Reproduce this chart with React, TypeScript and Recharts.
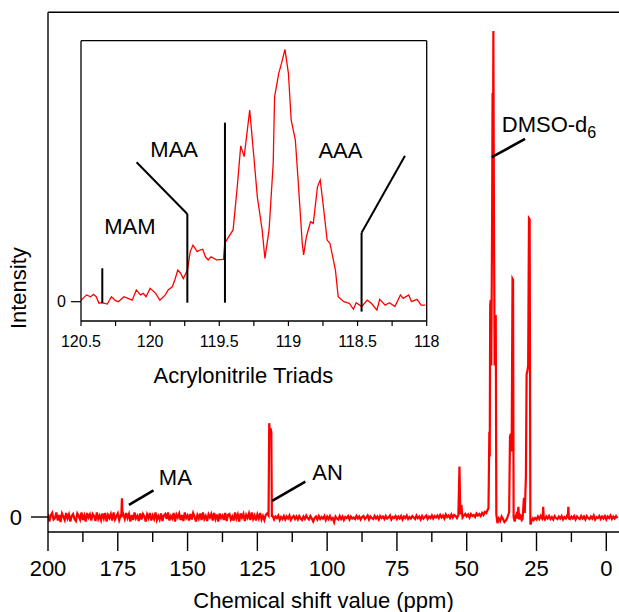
import React from "react";
import { LineChart, Line, XAxis, YAxis, ReferenceLine, ReferenceDot } from "recharts";

const FONT = '"Liberation Sans", Arial, Helvetica, sans-serif';
const RED = "#ff0000";

// Full 13C spectrum. Baseline sampled every 0.5 ppm: 200 -> 43.5 and 26 -> -4
const NOISE_A_START = 200;
const NOISE_A = [
  0.6, -0.9, 0.3, 0.8, -0.5, -0.2, 0.9, -0.7, 0.4, -1.0, 0.7, 0.1, -0.6, 0.8, -0.3, 0.5, -0.9, 0.2, 0.6, -0.4,
  -0.8, 0.7, 0.2, -0.5, 0.9, -0.6, 0.3, -0.9, 0.8, -0.1, 0.5, -0.7, 0.6, 0.2, -0.8, 0.9, -0.4, 0.3, -0.6, 0.7,
  -0.3, 0.8, -0.9, 0.4, -0.2, 0.6, -0.7, 0.9, -0.5, 0.1, 0.7, -0.6, 0.3, -0.8, 0.5, -0.4, 0.8, -0.2, 0.6, -0.9,
  0.4, -0.6, 0.9, -0.3, 0.2, -0.8, 0.7, -0.5, 0.6, 0.1, -0.9, 0.5, -0.2, 0.8, -0.7, 0.3, -0.4, 0.9, -0.6, 0.2,
  -0.5, 0.7, -0.8, 0.3, 0.6, -0.4, 0.9, -0.7, 0.2, -0.3, 0.8, -0.9, 0.5, -0.1, 0.7, -0.6, 0.4, -0.8, 0.9, -0.2,
  0.3, -0.7, 0.6, -0.5, 0.8, 0.1, -0.9, 0.4, -0.3, 0.7, -0.6, 0.9, -0.4, 0.2, -0.8, 0.5, -0.1, 0.6, -0.7, 0.8,
  -0.4, 0.5, -0.9, 0.7, -0.2, 0.3, -0.6, 0.8, -0.8, 0.4, 0.6, -0.5, 0.1, -0.7, 0.9, -0.3, 0.5, -0.9, 0.7, -0.1,
  0.6, -0.8, 0.4, -0.2, 0.7, -0.6, 0.9, -0.4, 0.3, -0.7, 0.5, -0.3, 0.8, -0.5, 0.2, -0.6, 0.4, 0.7, -0.2, 0.5,
  -0.3, 0.2, -0.5, 0.1, -0.2, 0.3, -0.6, 0.0, -0.4, 0.2, -0.5, 0.1, -0.3, 0.3, -0.6, -0.1, 0.2, -0.4, 0.1, -0.5,
  0.2, -0.3, -0.6, 0.1, -0.4, 0.3, -0.2, -0.5, 0.2, -0.3, -0.9, -0.2, 0.1, -0.5, 0.2, -0.4, 0.0, -0.3, 0.2, -0.6,
  0.1, -0.4, 0.2, -0.5, -0.2, -1.0, 0.1, -0.3, -0.5, 0.2, -0.4, 0.1, -0.6, 0.0, -0.2, 0.2, -0.5, 0.1, -0.3, -0.1,
  -0.4, 0.2, -0.3, 0.1, -0.5, 0.0, 0.2, -0.4, -0.1, 0.3, -0.5, 0.1, -0.2, -0.4, 0.2, -0.3, 0.1, -0.5, 0.2, -0.2,
  0.1, -0.4, 0.2, -0.3, -0.1, 0.3, -0.5, 0.0, -0.2, 0.2, -0.4, 0.1, -0.3, 0.2, -0.5, 0.1, -0.2, 0.3, -0.4, 0.0,
  -0.3, 0.2, -0.1, -0.4, 0.3, -0.2, 0.1, -0.5, 0.2, -0.3, 0.0, 0.3, -0.4, 0.1, -0.2, 0.3, -0.3, 0.2, -0.1, 0.3,
  -0.2, 0.4, -0.1, 0.3, -0.3, 0.5, 0.0, 0.3, -0.2, 0.5, -0.1, 0.4, 0.2, -0.2, 0.5, 0.1, 0.4, -0.1, 0.3, 0.6,
  0.1, 0.5, -0.1, 0.6, 0.2, 0.4, 0.0, 0.7, 0.3, 0.6, 0.2, 0.8, 0.4, 1.0,
];
const NOISE_B_START = 26;
const NOISE_B = [
  -0.6, -0.2, -0.5, 0.1, -0.4, 0.2, -0.3, -0.1, -0.5, 0.1,
  -0.3, 0.2, -0.4, 0.0, -0.5, 0.2, -0.2, -0.4, 0.1, -0.3,
  0.2, -0.5, 0.0, -0.3, 0.3, -0.1, -0.4, 0.1, -0.3, 0.2,
  -0.5, 0.1, -0.2, -0.4, 0.2, -0.3, 0.1, -0.5, 0.2, -0.2,
  -0.4, 0.1, -0.3, 0.3, -0.5, 0.0, -0.2, 0.2, -0.4, 0.1,
  -0.3, 0.2, -0.5, 0.1, -0.2, 0.3, -0.4, 0.1, -0.3, 0.2,
  -0.2,
];

// resonances as [ppm, intensity] runs, highest ppm first
const MA_PEAK = [[173.75, 0.2], [173.5, 3.7], [173.3, 0.1]];
const AN_PEAK = [[121.0, 0.3], [120.75, 18.6], [120.55, 17.0], [120.3, 17.6], [120.0, 16.9], [119.8, 0.2]];
const OME_PEAK = [[53.0, 0.4], [52.6, 10.0], [52.3, 0.5], [51.9, 2.4], [51.6, 0.3]];
const ALIPHATIC = [
  [43.0, 0.8], [42.2, 1.8], [41.9, 16.9], [41.75, 12.0], [41.6, 42.0], [41.4, 43.0],
  [41.2, 30.0], [40.9, 60.0], [40.75, 84.0], [40.6, 70.0], [40.45, 96.3], [40.25, 60.0],
  [40.0, 30.0], [39.8, 39.7], [39.6, 40.0], [39.4, 0.5], [39.0, -1.2], [38.5, -0.3],
  [38.0, -0.8], [37.5, 0.1], [37.0, -0.4], [36.5, -1.0], [36.0, -0.7], [35.5, -0.2],
  [35.2, 0.3], [34.8, 1.0], [34.5, 15.9], [34.2, 16.5], [33.9, 13.0], [33.6, 47.2],
  [33.4, 47.0], [33.2, 0.0], [32.8, -0.9], [32.5, 0.1], [32.2, 0.5], [31.8, -0.3],
  [31.5, 2.0], [31.2, -0.5], [30.9, 0.4], [30.6, 0.2], [30.3, -0.6], [30.0, -0.4],
  [29.5, 3.8], [29.2, 0.8], [28.8, 8.0], [28.55, 28.3], [28.3, 28.8], [28.0, 30.0],
  [27.7, 59.2], [27.45, 59.0], [27.2, -1.5], [26.8, -0.8], [26.3, -0.3],
];
const PEAK_22 = [[22.8, 0.1], [22.6, 2.0], [22.4, -0.2]];
const PEAK_14 = [[13.8, 0.1], [13.6, 2.0], [13.4, -0.2]];
const PEAK_GROUPS = [MA_PEAK, AN_PEAK, OME_PEAK, ALIPHATIC, PEAK_22, PEAK_14];

const MAIN_TICKS = [200, 187.5, 175, 162.5, 150, 137.5, 125, 112.5, 100, 87.5, 75, 62.5, 50, 37.5, 25, 12.5, 0];

// Expanded nitrile region (acrylonitrile triads)
const INSET_PPM = [
  120.5, 120.46, 120.43, 120.41, 120.39, 120.37, 120.35, 120.31, 120.28, 120.25,
  120.23, 120.19, 120.16, 120.13, 120.1, 120.07, 120.05, 120.03, 120.0, 119.96,
  119.93, 119.89, 119.87, 119.84, 119.82, 119.8, 119.78, 119.76, 119.73, 119.71,
  119.69, 119.66, 119.64, 119.62, 119.6, 119.58, 119.56, 119.52, 119.47, 119.46,
  119.43, 119.4, 119.37, 119.345, 119.32, 119.28, 119.25, 119.225, 119.19, 119.17,
  119.14, 119.11, 119.1, 119.07, 119.05, 119.025, 119.0, 118.98, 118.95, 118.93,
  118.9, 118.89, 118.87, 118.84, 118.82, 118.79, 118.77, 118.75, 118.72, 118.7,
  118.66, 118.64, 118.6, 118.56, 118.53, 118.51, 118.47, 118.43, 118.4, 118.36,
  118.34, 118.3, 118.27, 118.23, 118.19, 118.17, 118.13, 118.11, 118.07, 118.04,
  118.01,
];
const INSET_INT = [
  0.5, 2.6, 1.9, 2.8, 1.9, -0.6, -0.4, -0.9, 1.9, 0.4,
  0.0, 1.9, 1.3, 0.6, 4.5, 2.6, 3.2, 1.9, 5.1, 3.2,
  0.6, 2.6, 4.5, 5.7, 8.6, 12.1, 10.9, 8.9, 12.1, 19.2,
  21.7, 19.2, 19.8, 20.1, 17.2, 16.0, 17.2, 16.0, 16.2, 22.4,
  25.0, 27.5, 44.0, 59.7, 55.6, 73.4, 55.6, 40.2, 27.5, 16.6,
  27.5, 53.0, 78.5, 87.5, 91.3, 96.7, 87.5, 69.6, 62.0, 46.6,
  22.4, 17.9, 24.9, 30.6, 30.0, 44.0, 46.6, 37.7, 23.6, 22.4,
  12.1, 1.9, 0.0, -0.6, -2.9, -0.4, -1.9, 0.6, -0.6, -3.2,
  0.9, -1.3, -0.4, -1.9, 2.6, 1.3, 2.6, 0.0, 0.9, -1.3,
  -1.3,
];
const INSET_TICKS = [120.5, 120.25, 120, 119.75, 119.5, 119.25, 119, 118.75, 118.5, 118.25, 118];

const inPeak = (ppm: number) =>
  PEAK_GROUPS.some((g) => ppm <= g[0][0] && ppm >= g[g.length - 1][0]);

const spectrum = [
  ...NOISE_A.map((v, i) => ({ ppm: NOISE_A_START - i * 0.5, v })),
  ...NOISE_B.map((v, i) => ({ ppm: NOISE_B_START - i * 0.5, v })),
]
  .filter((p) => !inPeak(p.ppm))
  .concat(PEAK_GROUPS.flat().map(([ppm, v]) => ({ ppm, v })))
  .sort((a, b) => b.ppm - a.ppm);

const triads = INSET_PPM.map((ppm, i) => ({ ppm, v: INSET_INT[i] }));

const MainTick = ({ x, y, payload }: any) => {
  const major = payload.value % 25 === 0;
  return (
    <g>
      <line x1={x} y1={y} x2={x} y2={y + (major ? 19 : 10)} stroke="#000" strokeWidth={1.4} />
      {major && (
        <text x={x} y={y + 44} textAnchor="middle" fontSize={22} fill="#000" fontFamily={FONT}>
          {payload.value}
        </text>
      )}
    </g>
  );
};

const InsetTick = ({ x, y, payload }: any) => {
  const labelled = (payload.value * 2) % 1 === 0;
  return (
    <g>
      <line x1={x} y1={y} x2={x} y2={y + 5} stroke="#000" strokeWidth={1.2} />
      {labelled && (
        <text x={x} y={y + 26} textAnchor="middle" fontSize={16} fill="#000" fontFamily={FONT}>
          {payload.value}
        </text>
      )}
    </g>
  );
};

const Title = ({ viewBox, text, dx = 0, dy = 0, rotate = false }: any) => {
  const cx = rotate ? dx : viewBox.x + viewBox.width / 2 + dx;
  const cy = rotate ? viewBox.y + viewBox.height / 2 + dy : viewBox.y + dy;
  return (
    <text
      x={cx}
      y={cy}
      textAnchor="middle"
      fontSize={22}
      fill="#000"
      fontFamily={FONT}
      transform={rotate ? `rotate(-90, ${cx}, ${cy})` : undefined}
      dy={rotate ? "0.35em" : undefined}
    >
      {text}
    </text>
  );
};

const Note = ({ viewBox, text, anchor = "middle", sub }: any) => (
  <text x={viewBox.x} y={viewBox.y} textAnchor={anchor} fontSize={22} fill="#000" fontFamily={FONT}>
    {text}
    {sub && (
      <tspan fontSize={16} dy={6}>
        {sub}
      </tspan>
    )}
  </text>
);

const seg = (x1: number, y1: number, x2: number, y2: number) => [
  { x: x1, y: y1 },
  { x: x2, y: y2 },
];

export default function App() {
  return (
    <div
      style={{
        position: "absolute",
        left: 0,
        top: 0,
        width: 619,
        height: 612,
        overflow: "hidden",
        background: "#fff",
        fontFamily: FONT,
      }}
    >
      <div style={{ position: "absolute", left: 0, top: 0 }}>
        <LineChart width={640} height={612} data={spectrum} margin={{ top: 12.3, right: 15, bottom: 0, left: 0 }}>
          <XAxis
            dataKey="ppm"
            type="number"
            domain={[-6.7, 200]}
            reversed
            allowDataOverflow
            ticks={MAIN_TICKS}
            interval={0}
            height={80}
            tickSize={0}
            tickMargin={0}
            tickLine={false}
            tick={<MainTick />}
            axisLine={{ stroke: "#000", strokeWidth: 1.4 }}
            label={<Title text="Chemical shift value (ppm)" dx={-13} dy={76} />}
          />
          <YAxis
            type="number"
            domain={[-2.97, 100]}
            allowDataOverflow
            ticks={[0]}
            width={48}
            tickSize={17}
            tickMargin={9}
            tick={{ fill: "#000", fontSize: 22, fontFamily: FONT }}
            tickLine={{ stroke: "#000", strokeWidth: 1.4 }}
            axisLine={{ stroke: "#000", strokeWidth: 1.4 }}
            label={<Title text="Intensity" rotate dx={18.5} dy={16} />}
          />
          <ReferenceLine y={100} stroke="#000" strokeWidth={1.4} ifOverflow="visible" />
          <Line
            dataKey="v"
            type="linear"
            stroke={RED}
            strokeWidth={2.2}
            dot={false}
            isAnimationActive={false}
          />
          <ReferenceLine segment={seg(171.0, 2.4, 162.2, 5.3)} stroke="#000" strokeWidth={2.6} />
          <ReferenceLine segment={seg(119.7, 3.2, 107.8, 7.0)} stroke="#000" strokeWidth={2.6} />
          <ReferenceLine segment={seg(41.0, 71.3, 29.1, 74.9)} stroke="#000" strokeWidth={2.6} />
          <ReferenceDot x={160.3} y={6.3} r={0} fill="none" stroke="none" label={<Note text="MA" anchor="start" />} />
          <ReferenceDot x={105.3} y={7.3} r={0} fill="none" stroke="none" label={<Note text="AN" anchor="start" />} />
          <ReferenceDot
            x={37.45}
            y={76.3}
            r={0}
            fill="none"
            stroke="none"
            label={<Note text="DMSO-d" sub="6" anchor="start" />}
          />
        </LineChart>
      </div>

      <div style={{ position: "absolute", left: 0, top: 0 }}>
        <LineChart width={619} height={400} data={triads} margin={{ top: 40.7, right: 192.3, bottom: 0, left: 51 }}>
          <XAxis
            dataKey="ppm"
            type="number"
            domain={[118, 120.5]}
            reversed
            allowDataOverflow
            ticks={INSET_TICKS}
            interval={0}
            height={79}
            tickSize={0}
            tickMargin={0}
            tickLine={false}
            tick={<InsetTick />}
            axisLine={{ stroke: "#000", strokeWidth: 1.3 }}
            label={<Title text="Acrylonitrile Triads" dx={-10.5} dy={62} />}
          />
          <YAxis
            type="number"
            domain={[-7.4, 100]}
            allowDataOverflow
            ticks={[0]}
            width={30}
            tickSize={10}
            tickMargin={5}
            tick={{ fill: "#000", fontSize: 16, fontFamily: FONT }}
            tickLine={{ stroke: "#000", strokeWidth: 1.2 }}
            axisLine={{ stroke: "#000", strokeWidth: 1.3 }}
          />
          <ReferenceLine y={100} stroke="#000" strokeWidth={1.3} ifOverflow="visible" />
          <ReferenceLine x={118} stroke="#000" strokeWidth={1.3} ifOverflow="visible" />
          <Line
            dataKey="v"
            type="linear"
            stroke={RED}
            strokeWidth={1.3}
            dot={false}
            isAnimationActive={false}
          />
          <ReferenceLine segment={seg(120.346, 12.8, 120.346, -0.6)} stroke="#000" strokeWidth={2} />
          <ReferenceLine segment={seg(119.731, -0.4, 119.731, 33.6)} stroke="#000" strokeWidth={2} />
          <ReferenceLine segment={seg(119.731, 33.6, 120.098, 53.4)} stroke="#000" strokeWidth={2} />
          <ReferenceLine segment={seg(119.459, -0.4, 119.459, 68.6)} stroke="#000" strokeWidth={2} />
          <ReferenceLine segment={seg(118.471, -3.8, 118.471, 26.4)} stroke="#000" strokeWidth={2} />
          <ReferenceLine segment={seg(118.471, 26.4, 118.157, 55.9)} stroke="#000" strokeWidth={2} />
          <ReferenceDot x={120.146} y={25.9} r={0} fill="none" stroke="none" label={<Note text="MAM" />} />
          <ReferenceDot x={119.826} y={55.6} r={0} fill="none" stroke="none" label={<Note text="MAA" />} />
          <ReferenceDot x={118.624} y={55.2} r={0} fill="none" stroke="none" label={<Note text="AAA" />} />
        </LineChart>
      </div>
    </div>
  );
}
